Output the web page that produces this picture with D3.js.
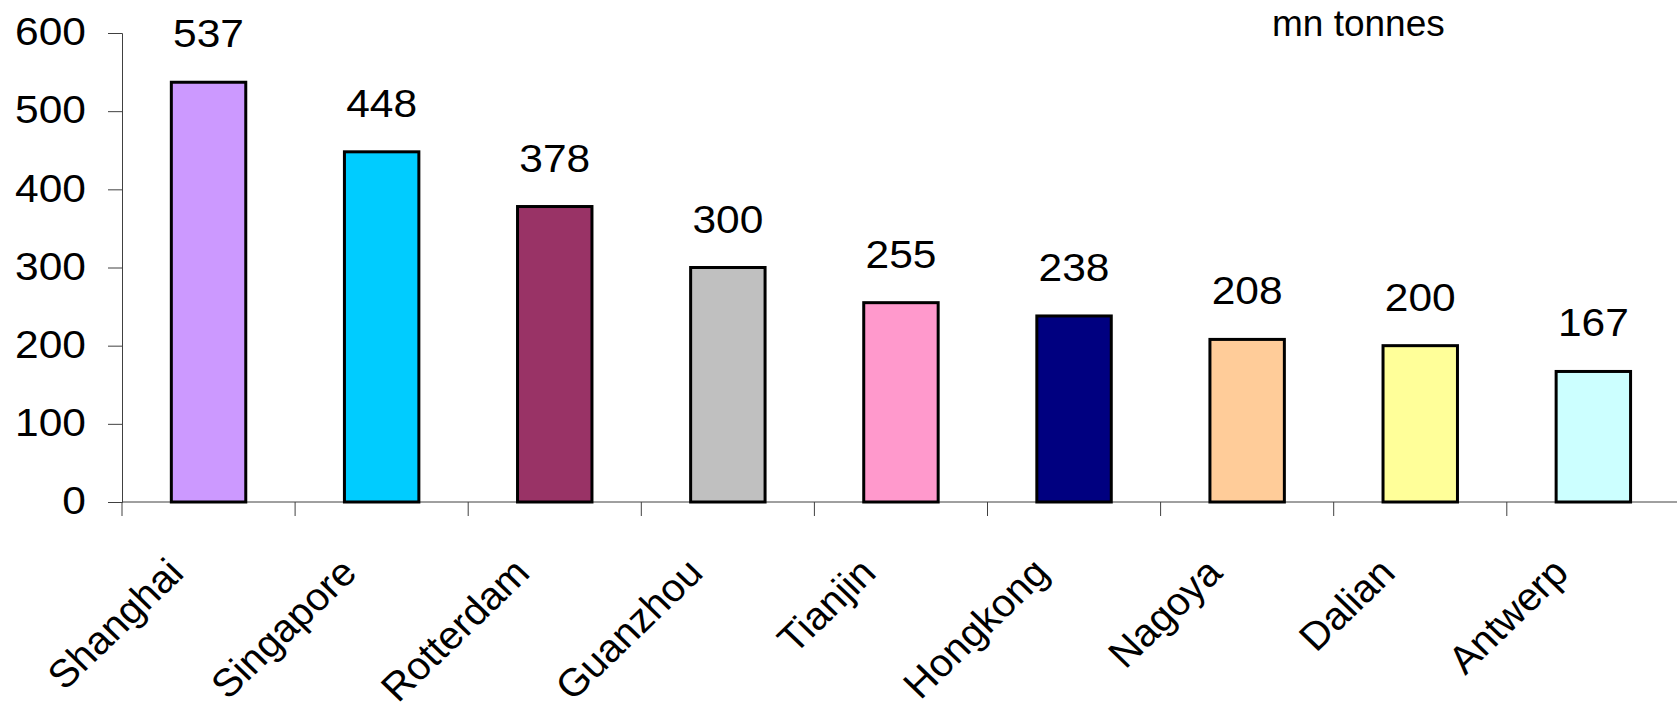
<!DOCTYPE html>
<html>
<head>
<meta charset="utf-8">
<script src="https://cdn.jsdelivr.net/npm/d3@7"></script>
<style>
  html, body { margin: 0; padding: 0; background: #fff; }
  svg { display: block; }
  text { font-family: "Liberation Sans", Arial, sans-serif; fill: #000; }
</style>
</head>
<body>
<svg id="chart" width="1677" height="711"></svg>
<script>
const ports = ["Shanghai", "Singapore", "Rotterdam", "Guanzhou", "Tianjin", "Hongkong", "Nagoya", "Dalian", "Antwerp"];
const tonnage = [537, 448, 378, 300, 255, 238, 208, 200, 167];
const barColors = ["#CC99FF", "#00CCFF", "#993366", "#C0C0C0", "#FF99CC", "#000080", "#FFCC99", "#FFFF99", "#CCFFFF"];
const yTicks = [0, 100, 200, 300, 400, 500, 600];
const unitLabel = "mn tonnes";

const svg = d3.select("#chart");

const x0 = 122, step = 173.1;
const stretch = 1.09; // the original's digits are a bit wide

const x = d3.scaleBand()
    .domain(ports)
    .range([x0, x0 + step * ports.length])
    .padding(0);
const y = d3.scaleLinear().domain([0, 600]).range([502, 33]);

const barW = x.bandwidth() * 0.43;

// axes
const yAxis = d3.axisLeft(y).tickValues(yTicks).tickSize(14).tickPadding(21);
const gy = svg.append("g").attr("transform", `translate(${x0},0)`).call(yAxis);
gy.select(".domain").attr("stroke", "#404040");
gy.selectAll(".tick line").attr("stroke", "#404040");
gy.selectAll(".tick text")
    .attr("x", 0)
    .attr("transform", `translate(-36,0) scale(${stretch},1)`)
    .style("font-size", "39px")
    .attr("dy", "0.3em");

svg.append("line")
    .attr("x1", x0).attr("x2", 1677)
    .attr("y1", y(0)).attr("y2", y(0))
    .attr("stroke", "#404040");

svg.selectAll("line.xtick")
    .data(d3.range(ports.length + 1))
    .enter()
    .append("line")
    .attr("class", "xtick")
    .attr("x1", (i) => x0 + i * x.step())
    .attr("x2", (i) => x0 + i * x.step())
    .attr("y1", y(0))
    .attr("y2", y(0) + 14)
    .attr("stroke", "#404040");

// bars
svg.selectAll("rect.bar")
    .data(ports)
    .enter()
    .append("rect")
    .attr("class", "bar")
    .attr("x", (d) => x(d) + (x.bandwidth() - barW) / 2)
    .attr("y", (d, i) => y(tonnage[i]))
    .attr("width", barW)
    .attr("height", (d, i) => y(0) - y(tonnage[i]))
    .attr("fill", (d, i) => barColors[i])
    .attr("stroke", "#000")
    .attr("stroke-width", 3);

// value labels
svg.selectAll("text.value")
    .data(ports)
    .enter()
    .append("text")
    .attr("class", "value")
    .attr("text-anchor", "middle")
    .attr("transform", (d, i) =>
        `translate(${x(d) + x.bandwidth() / 2},${y(tonnage[i]) - 35}) scale(${stretch},1)`)
    .style("font-size", "39px")
    .text((d, i) => tonnage[i]);

// category labels
svg.selectAll("text.cat")
    .data(ports)
    .enter()
    .append("text")
    .attr("class", "cat")
    .attr("text-anchor", "end")
    .attr("transform", (d) =>
        `translate(${x(d) + x.bandwidth() / 2 - 23},${y(0) + 73}) scale(1.04,1) rotate(-45)`)
    .style("font-size", "39px")
    .text((d) => d);

svg.append("text")
    .attr("x", 1272)
    .attr("y", 36)
    .style("font-size", "37px")
    .text(unitLabel);
</script>
</body>
</html>
